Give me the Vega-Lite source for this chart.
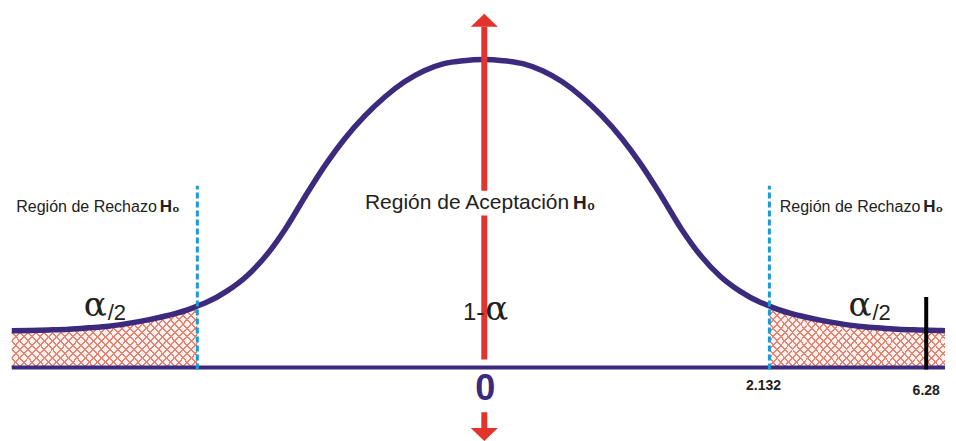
{
  "$schema": "https://vega.github.io/schema/vega-lite/v6.json",
  "width": 956,
  "height": 441,
  "autosize": {"type": "fit", "contains": "padding"},
  "padding": 0,
  "background": "white",
  "config": {"view": {"stroke": null}},
  "datasets": {
    "curve": [
      {"u": -3.515, "v": 0.0477}, {"u": -3.382, "v": 0.0481}, {"u": -3.235, "v": 0.0488},
      {"u": -3.088, "v": 0.0498}, {"u": -2.941, "v": 0.0516}, {"u": -2.794, "v": 0.0537},
      {"u": -2.647, "v": 0.0573}, {"u": -2.5, "v": 0.0618}, {"u": -2.353, "v": 0.0675},
      {"u": -2.206, "v": 0.0748}, {"u": -2.132, "v": 0.0799}, {"u": -2.059, "v": 0.085},
      {"u": -1.912, "v": 0.0992}, {"u": -1.765, "v": 0.1186}, {"u": -1.618, "v": 0.1457},
      {"u": -1.471, "v": 0.1813}, {"u": -1.324, "v": 0.2235}, {"u": -1.176, "v": 0.2636},
      {"u": -1.029, "v": 0.2982}, {"u": -0.882, "v": 0.3271}, {"u": -0.735, "v": 0.3514},
      {"u": -0.588, "v": 0.3711}, {"u": -0.441, "v": 0.3855}, {"u": -0.294, "v": 0.3947},
      {"u": -0.147, "v": 0.3986}, {"u": 0, "v": 0.4},
      {"u": 0.147, "v": 0.3986}, {"u": 0.294, "v": 0.3947}, {"u": 0.441, "v": 0.3855},
      {"u": 0.588, "v": 0.3711}, {"u": 0.735, "v": 0.3514}, {"u": 0.882, "v": 0.3271},
      {"u": 1.029, "v": 0.2982}, {"u": 1.176, "v": 0.2636}, {"u": 1.324, "v": 0.2235},
      {"u": 1.471, "v": 0.1813}, {"u": 1.618, "v": 0.1457}, {"u": 1.765, "v": 0.1186},
      {"u": 1.912, "v": 0.0992}, {"u": 2.059, "v": 0.085}, {"u": 2.132, "v": 0.0799},
      {"u": 2.206, "v": 0.0748}, {"u": 2.353, "v": 0.0675}, {"u": 2.5, "v": 0.0618},
      {"u": 2.647, "v": 0.0573}, {"u": 2.794, "v": 0.0537}, {"u": 2.941, "v": 0.0516},
      {"u": 3.088, "v": 0.0498}, {"u": 3.235, "v": 0.0488}, {"u": 3.382, "v": 0.0481},
      {"u": 3.441, "v": 0.0478}
    ],
    "tails": [
      {"side": "L", "u": -3.515, "v": 0.0477}, {"side": "L", "u": -3.382, "v": 0.0481},
      {"side": "L", "u": -3.235, "v": 0.0488}, {"side": "L", "u": -3.088, "v": 0.0498},
      {"side": "L", "u": -2.941, "v": 0.0516}, {"side": "L", "u": -2.794, "v": 0.0537},
      {"side": "L", "u": -2.647, "v": 0.0573}, {"side": "L", "u": -2.5, "v": 0.0618},
      {"side": "L", "u": -2.353, "v": 0.0675}, {"side": "L", "u": -2.206, "v": 0.0748},
      {"side": "L", "u": -2.132, "v": 0.0799},
      {"side": "R", "u": 2.132, "v": 0.0799}, {"side": "R", "u": 2.206, "v": 0.0748},
      {"side": "R", "u": 2.353, "v": 0.0675}, {"side": "R", "u": 2.5, "v": 0.0618},
      {"side": "R", "u": 2.647, "v": 0.0573}, {"side": "R", "u": 2.794, "v": 0.0537},
      {"side": "R", "u": 2.941, "v": 0.0516}, {"side": "R", "u": 3.088, "v": 0.0498},
      {"side": "R", "u": 3.235, "v": 0.0488}, {"side": "R", "u": 3.382, "v": 0.0481},
      {"side": "R", "u": 3.441, "v": 0.0478}
    ],
    "segments": [
      {"kind": "base", "u": -3.515, "v": 0, "u2": 3.441, "v2": 0},
      {"kind": "dash", "u": -2.132, "v": -0.0026, "u2": -2.132, "v2": 0.2361},
      {"kind": "dash", "u": 2.132, "v": -0.0026, "u2": 2.132, "v2": 0.2361},
      {"kind": "red", "u": 0.007, "v": 0.4426, "u2": 0.007, "v2": 0.2297},
      {"kind": "red", "u": 0.007, "v": 0.1974, "u2": 0.007, "v2": 0.0103},
      {"kind": "red", "u": 0.007, "v": -0.0581, "u2": 0.007, "v2": -0.0787},
      {"kind": "black", "u": 3.301, "v": 0.0916, "u2": 3.301, "v2": -0.0026}
    ],
    "arrows": [
      {"dir": "up", "u": 0.007, "v": 0.4426},
      {"dir": "down", "u": 0.007, "v": -0.0787}
    ],
    "labels": [
      {"kind": "side", "u": -2.434, "v": 0.2026, "t": "Región de Rechazo"},
      {"kind": "side", "u": 3.257, "v": 0.2026, "t": "Región de Rechazo"},
      {"kind": "sideH", "u": -2.412, "v": 0.2026, "t": "H₀"},
      {"kind": "sideH", "u": 3.279, "v": 0.2026, "t": "H₀"},
      {"kind": "center", "u": 0.64, "v": 0.2065, "t": "Región de Aceptación"},
      {"kind": "centerH", "u": 0.669, "v": 0.2065, "t": "H₀"},
      {"kind": "alpha", "u": -2.978, "v": 0.0671, "t": "α"},
      {"kind": "alpha", "u": 2.721, "v": 0.0671, "t": "α"},
      {"kind": "half", "u": -2.8, "v": 0.0619, "t": "/2"},
      {"kind": "half", "u": 2.9, "v": 0.0619, "t": "/2"},
      {"kind": "one", "u": 0.007, "v": 0.0619, "t": "1-"},
      {"kind": "alpha", "u": 0.015, "v": 0.0619, "t": "α"},
      {"kind": "zero", "u": 0.015, "v": -0.0426, "t": "0"},
      {"kind": "crit", "u": 2.088, "v": -0.0297, "t": "2.132"},
      {"kind": "crit", "u": 3.301, "v": -0.0361, "t": "6.28"}
    ]
  },
  "encoding": {
    "x": {"field": "u", "type": "quantitative", "scale": {"domain": [-3.588, 3.441], "nice": false, "zero": false}, "axis": null},
    "y": {"field": "v", "type": "quantitative", "scale": {"domain": [-0.0916, 0.4774], "nice": false, "zero": false}, "axis": null}
  },
  "layer": [
    {
      "data": {"name": "tails"},
      "mark": {"type": "area", "interpolate": "monotone", "color": "#fdf2f0"},
      "encoding": {"y2": {"datum": 0}, "detail": {"field": "side"}}
    },
    {
      "data": {"name": "tails"},
      "mark": {"type": "area", "interpolate": "monotone", "color": {"gradient": "linear", "x1": 0, "y1": 0, "x2": 1.197, "y2": 0.382, "stops": [
        {"offset": 0, "color": "#e68472"}, {"offset": 0.008, "color": "#e68472"}, {"offset": 0.008, "color": "rgba(255,255,255,0)"}, {"offset": 0.0333, "color": "rgba(255,255,255,0)"},
        {"offset": 0.0333, "color": "#e68472"}, {"offset": 0.0413, "color": "#e68472"}, {"offset": 0.0413, "color": "rgba(255,255,255,0)"}, {"offset": 0.0667, "color": "rgba(255,255,255,0)"},
        {"offset": 0.0667, "color": "#e68472"}, {"offset": 0.0747, "color": "#e68472"}, {"offset": 0.0747, "color": "rgba(255,255,255,0)"}, {"offset": 0.1, "color": "rgba(255,255,255,0)"},
        {"offset": 0.1, "color": "#e68472"}, {"offset": 0.108, "color": "#e68472"}, {"offset": 0.108, "color": "rgba(255,255,255,0)"}, {"offset": 0.1333, "color": "rgba(255,255,255,0)"},
        {"offset": 0.1333, "color": "#e68472"}, {"offset": 0.1413, "color": "#e68472"}, {"offset": 0.1413, "color": "rgba(255,255,255,0)"}, {"offset": 0.1667, "color": "rgba(255,255,255,0)"},
        {"offset": 0.1667, "color": "#e68472"}, {"offset": 0.1747, "color": "#e68472"}, {"offset": 0.1747, "color": "rgba(255,255,255,0)"}, {"offset": 0.2, "color": "rgba(255,255,255,0)"},
        {"offset": 0.2, "color": "#e68472"}, {"offset": 0.208, "color": "#e68472"}, {"offset": 0.208, "color": "rgba(255,255,255,0)"}, {"offset": 0.2333, "color": "rgba(255,255,255,0)"},
        {"offset": 0.2333, "color": "#e68472"}, {"offset": 0.2413, "color": "#e68472"}, {"offset": 0.2413, "color": "rgba(255,255,255,0)"}, {"offset": 0.2667, "color": "rgba(255,255,255,0)"},
        {"offset": 0.2667, "color": "#e68472"}, {"offset": 0.2747, "color": "#e68472"}, {"offset": 0.2747, "color": "rgba(255,255,255,0)"}, {"offset": 0.3, "color": "rgba(255,255,255,0)"},
        {"offset": 0.3, "color": "#e68472"}, {"offset": 0.308, "color": "#e68472"}, {"offset": 0.308, "color": "rgba(255,255,255,0)"}, {"offset": 0.3333, "color": "rgba(255,255,255,0)"},
        {"offset": 0.3333, "color": "#e68472"}, {"offset": 0.3413, "color": "#e68472"}, {"offset": 0.3413, "color": "rgba(255,255,255,0)"}, {"offset": 0.3667, "color": "rgba(255,255,255,0)"},
        {"offset": 0.3667, "color": "#e68472"}, {"offset": 0.3747, "color": "#e68472"}, {"offset": 0.3747, "color": "rgba(255,255,255,0)"}, {"offset": 0.4, "color": "rgba(255,255,255,0)"},
        {"offset": 0.4, "color": "#e68472"}, {"offset": 0.408, "color": "#e68472"}, {"offset": 0.408, "color": "rgba(255,255,255,0)"}, {"offset": 0.4333, "color": "rgba(255,255,255,0)"},
        {"offset": 0.4333, "color": "#e68472"}, {"offset": 0.4413, "color": "#e68472"}, {"offset": 0.4413, "color": "rgba(255,255,255,0)"}, {"offset": 0.4667, "color": "rgba(255,255,255,0)"},
        {"offset": 0.4667, "color": "#e68472"}, {"offset": 0.4747, "color": "#e68472"}, {"offset": 0.4747, "color": "rgba(255,255,255,0)"}, {"offset": 0.5, "color": "rgba(255,255,255,0)"},
        {"offset": 0.5, "color": "#e68472"}, {"offset": 0.508, "color": "#e68472"}, {"offset": 0.508, "color": "rgba(255,255,255,0)"}, {"offset": 0.5333, "color": "rgba(255,255,255,0)"},
        {"offset": 0.5333, "color": "#e68472"}, {"offset": 0.5413, "color": "#e68472"}, {"offset": 0.5413, "color": "rgba(255,255,255,0)"}, {"offset": 0.5667, "color": "rgba(255,255,255,0)"},
        {"offset": 0.5667, "color": "#e68472"}, {"offset": 0.5747, "color": "#e68472"}, {"offset": 0.5747, "color": "rgba(255,255,255,0)"}, {"offset": 0.6, "color": "rgba(255,255,255,0)"},
        {"offset": 0.6, "color": "#e68472"}, {"offset": 0.608, "color": "#e68472"}, {"offset": 0.608, "color": "rgba(255,255,255,0)"}, {"offset": 0.6333, "color": "rgba(255,255,255,0)"},
        {"offset": 0.6333, "color": "#e68472"}, {"offset": 0.6413, "color": "#e68472"}, {"offset": 0.6413, "color": "rgba(255,255,255,0)"}, {"offset": 0.6667, "color": "rgba(255,255,255,0)"},
        {"offset": 0.6667, "color": "#e68472"}, {"offset": 0.6747, "color": "#e68472"}, {"offset": 0.6747, "color": "rgba(255,255,255,0)"}, {"offset": 0.7, "color": "rgba(255,255,255,0)"},
        {"offset": 0.7, "color": "#e68472"}, {"offset": 0.708, "color": "#e68472"}, {"offset": 0.708, "color": "rgba(255,255,255,0)"}, {"offset": 0.7333, "color": "rgba(255,255,255,0)"},
        {"offset": 0.7333, "color": "#e68472"}, {"offset": 0.7413, "color": "#e68472"}, {"offset": 0.7413, "color": "rgba(255,255,255,0)"}, {"offset": 0.7667, "color": "rgba(255,255,255,0)"},
        {"offset": 0.7667, "color": "#e68472"}, {"offset": 0.7747, "color": "#e68472"}, {"offset": 0.7747, "color": "rgba(255,255,255,0)"}, {"offset": 0.8, "color": "rgba(255,255,255,0)"},
        {"offset": 0.8, "color": "#e68472"}, {"offset": 0.808, "color": "#e68472"}, {"offset": 0.808, "color": "rgba(255,255,255,0)"}, {"offset": 0.8333, "color": "rgba(255,255,255,0)"},
        {"offset": 0.8333, "color": "#e68472"}, {"offset": 0.8413, "color": "#e68472"}, {"offset": 0.8413, "color": "rgba(255,255,255,0)"}, {"offset": 0.8667, "color": "rgba(255,255,255,0)"},
        {"offset": 0.8667, "color": "#e68472"}, {"offset": 0.8747, "color": "#e68472"}, {"offset": 0.8747, "color": "rgba(255,255,255,0)"}, {"offset": 0.9, "color": "rgba(255,255,255,0)"},
        {"offset": 0.9, "color": "#e68472"}, {"offset": 0.908, "color": "#e68472"}, {"offset": 0.908, "color": "rgba(255,255,255,0)"}, {"offset": 0.9333, "color": "rgba(255,255,255,0)"},
        {"offset": 0.9333, "color": "#e68472"}, {"offset": 0.9413, "color": "#e68472"}, {"offset": 0.9413, "color": "rgba(255,255,255,0)"}, {"offset": 0.9667, "color": "rgba(255,255,255,0)"},
        {"offset": 0.9667, "color": "#e68472"}, {"offset": 0.9747, "color": "#e68472"}, {"offset": 0.9747, "color": "rgba(255,255,255,0)"}, {"offset": 1, "color": "rgba(255,255,255,0)"}
      ]}},
      "encoding": {"y2": {"datum": 0}, "detail": {"field": "side"}}
    },
    {
      "data": {"name": "tails"},
      "mark": {"type": "area", "interpolate": "monotone", "color": {"gradient": "linear", "x1": 0, "y1": 1, "x2": 1.197, "y2": 0.618, "stops": [
        {"offset": 0, "color": "#e68472"}, {"offset": 0.008, "color": "#e68472"}, {"offset": 0.008, "color": "rgba(255,255,255,0)"}, {"offset": 0.0333, "color": "rgba(255,255,255,0)"},
        {"offset": 0.0333, "color": "#e68472"}, {"offset": 0.0413, "color": "#e68472"}, {"offset": 0.0413, "color": "rgba(255,255,255,0)"}, {"offset": 0.0667, "color": "rgba(255,255,255,0)"},
        {"offset": 0.0667, "color": "#e68472"}, {"offset": 0.0747, "color": "#e68472"}, {"offset": 0.0747, "color": "rgba(255,255,255,0)"}, {"offset": 0.1, "color": "rgba(255,255,255,0)"},
        {"offset": 0.1, "color": "#e68472"}, {"offset": 0.108, "color": "#e68472"}, {"offset": 0.108, "color": "rgba(255,255,255,0)"}, {"offset": 0.1333, "color": "rgba(255,255,255,0)"},
        {"offset": 0.1333, "color": "#e68472"}, {"offset": 0.1413, "color": "#e68472"}, {"offset": 0.1413, "color": "rgba(255,255,255,0)"}, {"offset": 0.1667, "color": "rgba(255,255,255,0)"},
        {"offset": 0.1667, "color": "#e68472"}, {"offset": 0.1747, "color": "#e68472"}, {"offset": 0.1747, "color": "rgba(255,255,255,0)"}, {"offset": 0.2, "color": "rgba(255,255,255,0)"},
        {"offset": 0.2, "color": "#e68472"}, {"offset": 0.208, "color": "#e68472"}, {"offset": 0.208, "color": "rgba(255,255,255,0)"}, {"offset": 0.2333, "color": "rgba(255,255,255,0)"},
        {"offset": 0.2333, "color": "#e68472"}, {"offset": 0.2413, "color": "#e68472"}, {"offset": 0.2413, "color": "rgba(255,255,255,0)"}, {"offset": 0.2667, "color": "rgba(255,255,255,0)"},
        {"offset": 0.2667, "color": "#e68472"}, {"offset": 0.2747, "color": "#e68472"}, {"offset": 0.2747, "color": "rgba(255,255,255,0)"}, {"offset": 0.3, "color": "rgba(255,255,255,0)"},
        {"offset": 0.3, "color": "#e68472"}, {"offset": 0.308, "color": "#e68472"}, {"offset": 0.308, "color": "rgba(255,255,255,0)"}, {"offset": 0.3333, "color": "rgba(255,255,255,0)"},
        {"offset": 0.3333, "color": "#e68472"}, {"offset": 0.3413, "color": "#e68472"}, {"offset": 0.3413, "color": "rgba(255,255,255,0)"}, {"offset": 0.3667, "color": "rgba(255,255,255,0)"},
        {"offset": 0.3667, "color": "#e68472"}, {"offset": 0.3747, "color": "#e68472"}, {"offset": 0.3747, "color": "rgba(255,255,255,0)"}, {"offset": 0.4, "color": "rgba(255,255,255,0)"},
        {"offset": 0.4, "color": "#e68472"}, {"offset": 0.408, "color": "#e68472"}, {"offset": 0.408, "color": "rgba(255,255,255,0)"}, {"offset": 0.4333, "color": "rgba(255,255,255,0)"},
        {"offset": 0.4333, "color": "#e68472"}, {"offset": 0.4413, "color": "#e68472"}, {"offset": 0.4413, "color": "rgba(255,255,255,0)"}, {"offset": 0.4667, "color": "rgba(255,255,255,0)"},
        {"offset": 0.4667, "color": "#e68472"}, {"offset": 0.4747, "color": "#e68472"}, {"offset": 0.4747, "color": "rgba(255,255,255,0)"}, {"offset": 0.5, "color": "rgba(255,255,255,0)"},
        {"offset": 0.5, "color": "#e68472"}, {"offset": 0.508, "color": "#e68472"}, {"offset": 0.508, "color": "rgba(255,255,255,0)"}, {"offset": 0.5333, "color": "rgba(255,255,255,0)"},
        {"offset": 0.5333, "color": "#e68472"}, {"offset": 0.5413, "color": "#e68472"}, {"offset": 0.5413, "color": "rgba(255,255,255,0)"}, {"offset": 0.5667, "color": "rgba(255,255,255,0)"},
        {"offset": 0.5667, "color": "#e68472"}, {"offset": 0.5747, "color": "#e68472"}, {"offset": 0.5747, "color": "rgba(255,255,255,0)"}, {"offset": 0.6, "color": "rgba(255,255,255,0)"},
        {"offset": 0.6, "color": "#e68472"}, {"offset": 0.608, "color": "#e68472"}, {"offset": 0.608, "color": "rgba(255,255,255,0)"}, {"offset": 0.6333, "color": "rgba(255,255,255,0)"},
        {"offset": 0.6333, "color": "#e68472"}, {"offset": 0.6413, "color": "#e68472"}, {"offset": 0.6413, "color": "rgba(255,255,255,0)"}, {"offset": 0.6667, "color": "rgba(255,255,255,0)"},
        {"offset": 0.6667, "color": "#e68472"}, {"offset": 0.6747, "color": "#e68472"}, {"offset": 0.6747, "color": "rgba(255,255,255,0)"}, {"offset": 0.7, "color": "rgba(255,255,255,0)"},
        {"offset": 0.7, "color": "#e68472"}, {"offset": 0.708, "color": "#e68472"}, {"offset": 0.708, "color": "rgba(255,255,255,0)"}, {"offset": 0.7333, "color": "rgba(255,255,255,0)"},
        {"offset": 0.7333, "color": "#e68472"}, {"offset": 0.7413, "color": "#e68472"}, {"offset": 0.7413, "color": "rgba(255,255,255,0)"}, {"offset": 0.7667, "color": "rgba(255,255,255,0)"},
        {"offset": 0.7667, "color": "#e68472"}, {"offset": 0.7747, "color": "#e68472"}, {"offset": 0.7747, "color": "rgba(255,255,255,0)"}, {"offset": 0.8, "color": "rgba(255,255,255,0)"},
        {"offset": 0.8, "color": "#e68472"}, {"offset": 0.808, "color": "#e68472"}, {"offset": 0.808, "color": "rgba(255,255,255,0)"}, {"offset": 0.8333, "color": "rgba(255,255,255,0)"},
        {"offset": 0.8333, "color": "#e68472"}, {"offset": 0.8413, "color": "#e68472"}, {"offset": 0.8413, "color": "rgba(255,255,255,0)"}, {"offset": 0.8667, "color": "rgba(255,255,255,0)"},
        {"offset": 0.8667, "color": "#e68472"}, {"offset": 0.8747, "color": "#e68472"}, {"offset": 0.8747, "color": "rgba(255,255,255,0)"}, {"offset": 0.9, "color": "rgba(255,255,255,0)"},
        {"offset": 0.9, "color": "#e68472"}, {"offset": 0.908, "color": "#e68472"}, {"offset": 0.908, "color": "rgba(255,255,255,0)"}, {"offset": 0.9333, "color": "rgba(255,255,255,0)"},
        {"offset": 0.9333, "color": "#e68472"}, {"offset": 0.9413, "color": "#e68472"}, {"offset": 0.9413, "color": "rgba(255,255,255,0)"}, {"offset": 0.9667, "color": "rgba(255,255,255,0)"},
        {"offset": 0.9667, "color": "#e68472"}, {"offset": 0.9747, "color": "#e68472"}, {"offset": 0.9747, "color": "rgba(255,255,255,0)"}, {"offset": 1, "color": "rgba(255,255,255,0)"}
      ]}},
      "encoding": {"y2": {"datum": 0}, "detail": {"field": "side"}}
    },
    {
      "data": {"name": "segments"},
      "transform": [{"filter": "datum.kind === 'base'"}],
      "mark": {"type": "rule", "color": "#3b2a7d", "strokeWidth": 4},
      "encoding": {"x2": {"field": "u2"}, "y2": {"field": "v2"}}
    },
    {
      "data": {"name": "curve"},
      "mark": {"type": "line", "color": "#3b2a7d", "strokeWidth": 5.5, "interpolate": "monotone", "strokeCap": "butt"},
      "encoding": {}
    },
    {
      "data": {"name": "segments"},
      "transform": [{"filter": "datum.kind === 'dash'"}],
      "mark": {"type": "rule", "color": "#1b9ad6", "strokeWidth": 3, "strokeDash": [6, 3]},
      "encoding": {"x2": {"field": "u2"}, "y2": {"field": "v2"}}
    },
    {
      "data": {"name": "segments"},
      "transform": [{"filter": "datum.kind === 'red'"}],
      "mark": {"type": "rule", "color": "#e2332d", "strokeWidth": 6},
      "encoding": {"x2": {"field": "u2"}, "y2": {"field": "v2"}}
    },
    {
      "data": {"name": "segments"},
      "transform": [{"filter": "datum.kind === 'black'"}],
      "mark": {"type": "rule", "color": "#000000", "strokeWidth": 4},
      "encoding": {"x2": {"field": "u2"}, "y2": {"field": "v2"}}
    },
    {
      "data": {"name": "arrows"},
      "transform": [{"filter": "datum.dir === 'up'"}],
      "mark": {"type": "point", "shape": "M-1,0L1,0L0,-0.96Z", "filled": true, "color": "#e2332d", "size": 729, "opacity": 1}
    },
    {
      "data": {"name": "arrows"},
      "transform": [{"filter": "datum.dir === 'down'"}],
      "mark": {"type": "point", "shape": "M-1,0L1,0L0,0.96Z", "filled": true, "color": "#e2332d", "size": 729, "opacity": 1}
    },
    {
      "data": {"name": "labels"},
      "transform": [{"filter": "datum.kind === 'side'"}],
      "mark": {"type": "text", "align": "right", "baseline": "alphabetic", "font": "Liberation Sans", "fontSize": 16, "color": "#222222"},
      "encoding": {"text": {"field": "t"}}
    },
    {
      "data": {"name": "labels"},
      "transform": [{"filter": "datum.kind === 'sideH'"}],
      "mark": {"type": "text", "align": "left", "baseline": "alphabetic", "font": "Liberation Sans", "fontWeight": "bold", "fontSize": 17, "color": "#222222"},
      "encoding": {"text": {"field": "t"}}
    },
    {
      "data": {"name": "labels"},
      "transform": [{"filter": "datum.kind === 'center'"}],
      "mark": {"type": "text", "align": "right", "baseline": "alphabetic", "font": "Liberation Sans", "fontSize": 21, "color": "#222222"},
      "encoding": {"text": {"field": "t"}}
    },
    {
      "data": {"name": "labels"},
      "transform": [{"filter": "datum.kind === 'centerH'"}],
      "mark": {"type": "text", "align": "left", "baseline": "alphabetic", "font": "Liberation Sans", "fontWeight": "bold", "fontSize": 19, "color": "#222222"},
      "encoding": {"text": {"field": "t"}}
    },
    {
      "data": {"name": "labels"},
      "transform": [{"filter": "datum.kind === 'alpha'"}],
      "mark": {"type": "text", "align": "left", "baseline": "alphabetic", "font": "DejaVu Serif", "fontSize": 34, "color": "#222222"},
      "encoding": {"text": {"field": "t"}}
    },
    {
      "data": {"name": "labels"},
      "transform": [{"filter": "datum.kind === 'half'"}],
      "mark": {"type": "text", "align": "left", "baseline": "alphabetic", "font": "Liberation Sans", "fontSize": 22, "color": "#222222"},
      "encoding": {"text": {"field": "t"}}
    },
    {
      "data": {"name": "labels"},
      "transform": [{"filter": "datum.kind === 'one'"}],
      "mark": {"type": "text", "align": "right", "baseline": "alphabetic", "font": "Liberation Sans", "fontSize": 24, "color": "#222222"},
      "encoding": {"text": {"field": "t"}}
    },
    {
      "data": {"name": "labels"},
      "transform": [{"filter": "datum.kind === 'zero'"}],
      "mark": {"type": "text", "align": "center", "baseline": "alphabetic", "font": "Liberation Sans", "fontWeight": "bold", "fontSize": 36, "color": "#3b2a7d"},
      "encoding": {"text": {"field": "t"}}
    },
    {
      "data": {"name": "labels"},
      "transform": [{"filter": "datum.kind === 'crit'"}],
      "mark": {"type": "text", "align": "center", "baseline": "alphabetic", "font": "Liberation Sans", "fontWeight": "bold", "fontSize": 14, "color": "#222222"},
      "encoding": {"text": {"field": "t"}}
    }
  ]
}
